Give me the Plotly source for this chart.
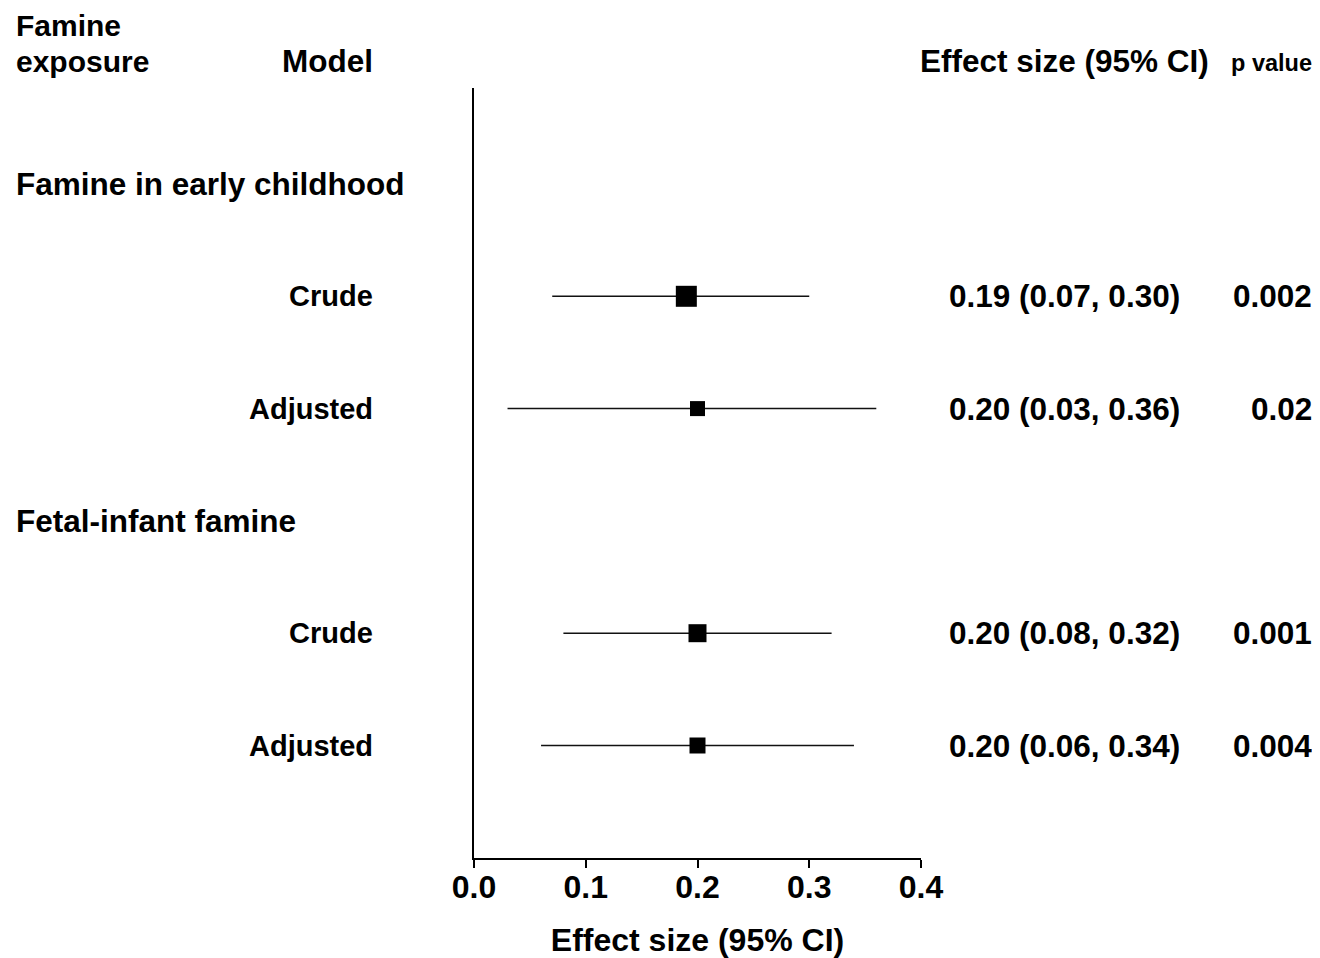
import plotly.graph_objects as go

# ---- data ----
groups = ["Famine in early childhood", "Fetal-infant famine"]
models = ["Crude", "Adjusted", "Crude", "Adjusted"]
row_group = [0, 0, 1, 1]
estimate = [0.19, 0.20, 0.20, 0.20]
ci_low = [0.07, 0.03, 0.08, 0.06]
ci_high = [0.30, 0.36, 0.32, 0.34]
p_values = ["0.002", "0.02", "0.001", "0.004"]
x_ticks = [0.0, 0.1, 0.2, 0.3, 0.4]
x_tick_labels = ["0.0", "0.1", "0.2", "0.3", "0.4"]

# ---- style ----
box_px = [21, 15, 18, 16]
FONT = "Liberation Sans, Arial, sans-serif"
FS = 31.5
OFF = 8  # page body margin
W, H = 1320 - OFF, 958 - OFF
L, R, T, B = 474 - OFF, 921 - OFF, 88 - OFF, 858 - OFF

# row positions: group header then its rows
row_y = []
group_y = []
k = 0
for g in range(len(groups)):
    group_y.append(k)
    k += 1
    for i, rg in enumerate(row_group):
        if rg == g:
            row_y.append(k)
            k += 1

step = 112.3
y0 = 184 - OFF
y_top = (T - y0) / step
y_bot = (B - y0) / step

fig = go.Figure()
fig.add_trace(go.Scatter(
    x=estimate, y=row_y, mode="markers",
    marker=dict(symbol="square", size=box_px, color="black", opacity=1, line=dict(width=0)),
    error_x=dict(type="data", symmetric=False,
                 array=[h - e for h, e in zip(ci_high, estimate)],
                 arrayminus=[e - l for e, l in zip(estimate, ci_low)],
                 color="#111", thickness=1.5, width=0),
    showlegend=False, hoverinfo="skip",
))

def px2paper(px):
    return (px - OFF - L) / (R - L)

def pyy(py):
    return 1 - (py - OFF - T) / (B - T)

def fnt(size=FS):
    return dict(family=FONT, size=size, color="black", weight="bold")

ann = []
def txt(text, px, py, anchor, size=FS):
    ann.append(dict(text=text, xref="paper", yref="paper", x=px2paper(px), y=pyy(py),
                    xanchor=anchor, yanchor="middle", showarrow=False, font=fnt(size)))

# headers
txt("Famine", 14, 25, "left", size=30)
txt("exposure", 14, 61, "left", size=30)
txt("Model", 375, 61, "right")
txt("Effect size (95% CI)", 1064, 61, "center")
txt("p value", 1314, 63, "right", size=23.5)

for g, gy in zip(groups, group_y):
    ann.append(dict(text=g, xref="paper", yref="y", x=px2paper(14), y=gy,
                    xanchor="left", yanchor="middle", showarrow=False, font=fnt()))

for m, y, e, lo, hi, p in zip(models, row_y, estimate, ci_low, ci_high, p_values):
    for text, px, anchor, sz in [(m, 375, "right", 29),
                                 (f"{e:.2f} ({lo:.2f}, {hi:.2f})", 1064, "center", FS),
                                 (p, 1314, "right", FS)]:
        ann.append(dict(text=text, xref="paper", yref="y", x=px2paper(px), y=y,
                        xanchor=anchor, yanchor="middle", showarrow=False, font=fnt(sz)))

fig.update_layout(
    width=W, height=H,
    margin=dict(l=L, r=W - R, t=T, b=H - B, pad=0, autoexpand=False),
    paper_bgcolor="white", plot_bgcolor="white",
    annotations=ann,
    xaxis=dict(range=[0, 0.4], tickvals=x_ticks, ticktext=x_tick_labels,
               showline=True, linecolor="black", linewidth=1.5,
               ticks="outside", ticklen=8, tickwidth=1.5, tickcolor="black",
               ticklabelstandoff=-8, automargin=False,
               showgrid=False, zeroline=False,
               tickfont=fnt(32),
               title=dict(text="Effect size (95% CI)", standoff=26, font=fnt(32))),
    yaxis=dict(range=[y_bot, y_top], showline=True, linecolor="black", linewidth=1.5,
               showticklabels=False, ticks="", showgrid=False, zeroline=False,
               automargin=False),
)

fig.write_html("out.html")
